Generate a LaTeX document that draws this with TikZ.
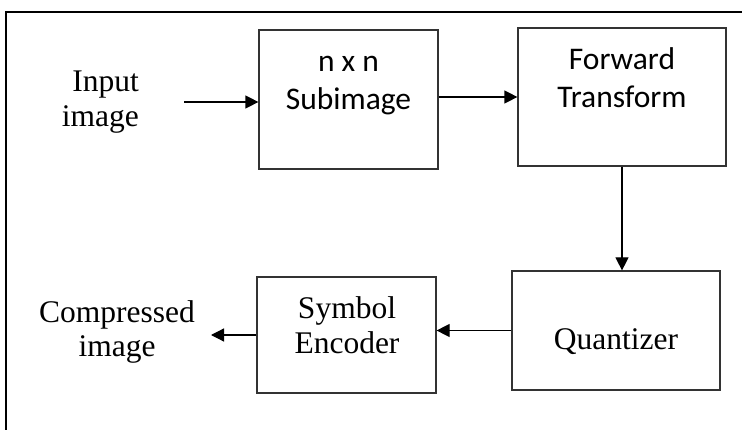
\documentclass[tikz,border=0pt]{standalone}
\usepackage{fontspec}
\setmainfont{Liberation Serif}
\newfontfamily\calibri{Carlito}
\usetikzlibrary{arrows.meta}
\tikzset{
  blk/.style={draw=black!80, line width=1.2pt},
  lbl/.style={align=center, inner sep=0pt, font=\fontsize{31.5}{35}\selectfont},
  lblsans/.style={align=center, inner sep=0pt, font=\calibri\fontsize{31.5}{38}\selectfont},
  flow/.style={-{Triangle[length=13pt,width=13pt]}, line width=1.2pt}
}
\begin{document}
\begin{tikzpicture}[x=1pt, y=-1pt]
  \useasboundingbox (0,0) rectangle (742,430);

  % Frame (top and left only)
  \draw[line width=2pt] (742,12) -- (6,12) -- (6,430);

  % Blocks
  \node[blk, minimum width=179pt, minimum height=139pt] (sub) at (348.5,99.5) {};
  \node[blk, minimum width=208pt, minimum height=138pt] (fwd) at (622,97) {};
  \node[blk, minimum width=208pt, minimum height=119pt] (quant) at (616,330.5) {};
  \node[blk, minimum width=179pt, minimum height=116pt] (sym) at (346.5,335) {};

  % Block texts (base = last line)
  \node[lblsans, anchor=base] (subtxt) at (348.5,110) {n x n\\Subimage};
  \node[lblsans, anchor=base] (fwdtxt) at (622,108) {Forward\\Transform};
  \node[lbl, anchor=base] (quanttxt) at (616,350) {Quantizer};
  \node[lbl, anchor=base] (symtxt) at (347,354) {Symbol\\Encoder};

  % Input and output
  \node[lbl, align=right, anchor=base east] (intxt) at (139,127) {Input\\image};
  \node[lbl, anchor=base] (outtxt) at (117,357) {Compressed\\image};
  \coordinate (instart) at (184,102);
  \coordinate (outend) at (211,335);

  % Arrows
  \draw[flow] (instart) -- (instart -| sub.west);
  \draw[flow] (sub.east |- fwd.west) -- (fwd.west);
  \draw[flow] (fwd.south) -- (fwd.south |- quant.north);
  \draw[flow] (quant.west) -- (quant.west -| sym.east);
  \draw[flow] (sym.west) -- (sym.west -| outend);
\end{tikzpicture}
\end{document}
